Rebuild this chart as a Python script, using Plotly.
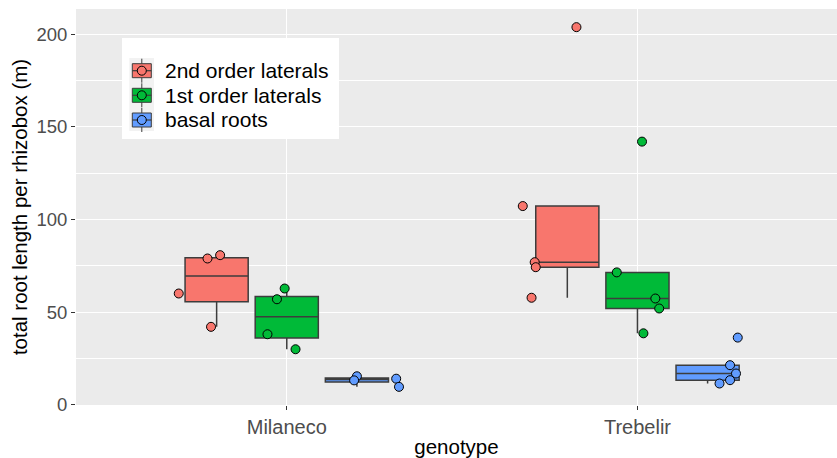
import numpy as np
import plotly.graph_objects as go

# ---- data ----
genotypes = ["Milaneco", "Trebelir"]
root_types = ["2nd order laterals", "1st order laterals", "basal roots"]

# values per rhizobox (m), per genotype
milaneco_2nd = [78.9, 80.7, 60.0, 42.0]
milaneco_1st = [62.7, 56.9, 38.0, 29.9]
milaneco_basal = [15.3, 13.1, 14.0, 9.6]
trebelir_2nd = [203.8, 107.2, 76.9, 74.2, 57.7]
trebelir_1st = [142.0, 71.4, 57.3, 51.9, 38.5]
trebelir_basal = [36.2, 21.3, 16.8, 13.2, 11.4]

# horizontal jitter of each point (in category units)
jitter_milaneco_2nd = [-0.026, 0.010, -0.108, -0.016]
jitter_milaneco_1st = [-0.006, -0.028, -0.055, 0.025]
jitter_milaneco_basal = [0.000, -0.008, 0.112, 0.120]
jitter_trebelir_2nd = [0.026, -0.127, -0.093, -0.090, -0.102]
jitter_trebelir_1st = [0.013, -0.059, 0.051, 0.062, 0.017]
jitter_trebelir_basal = [0.086, 0.064, 0.081, 0.064, 0.034]

values = {
    "2nd order laterals": [milaneco_2nd, trebelir_2nd],
    "1st order laterals": [milaneco_1st, trebelir_1st],
    "basal roots": [milaneco_basal, trebelir_basal],
}
jitters = {
    "2nd order laterals": [jitter_milaneco_2nd, jitter_trebelir_2nd],
    "1st order laterals": [jitter_milaneco_1st, jitter_trebelir_1st],
    "basal roots": [jitter_milaneco_basal, jitter_trebelir_basal],
}
colors = {"2nd order laterals": "#F8766D", "1st order laterals": "#00BA38", "basal roots": "#619CFF"}

DODGE = 0.2
BOXW = 0.18


def box_stats(v):
    v = np.asarray(v, dtype=float)
    q1, med, q3 = np.percentile(v, [25, 50, 75])
    iqr = q3 - q1
    lo = v[v >= q1 - 1.5 * iqr].min()
    hi = v[v <= q3 + 1.5 * iqr].max()
    return q1, med, q3, lo, hi


fig = go.Figure()

for i, rt in enumerate(root_types):
    off = (i - 1) * DODGE
    xs, q1s, meds, q3s, los, his = [], [], [], [], [], []
    for g in range(len(genotypes)):
        q1, med, q3, lo, hi = box_stats(values[rt][g])
        xs.append(g + 1 + off)
        q1s.append(q1); meds.append(med); q3s.append(q3); los.append(lo); his.append(hi)
    fig.add_trace(go.Box(
        x=xs, q1=q1s, median=meds, q3=q3s, lowerfence=los, upperfence=his,
        name=rt, width=BOXW, whiskerwidth=0, boxpoints=False,
        fillcolor=colors[rt], line=dict(color="#3d3d3d", width=1.5),
        showlegend=False, hoverinfo="skip",
    ))

for i, rt in enumerate(root_types):
    off = (i - 1) * DODGE
    px, py = [], []
    for g in range(len(genotypes)):
        for val, j in zip(values[rt][g], jitters[rt][g]):
            px.append(g + 1 + off + j)
            py.append(val)
    fig.add_trace(go.Scatter(
        x=px, y=py, mode="markers", name=rt, showlegend=False,
        marker=dict(size=9, color=colors[rt], line=dict(color="black", width=1)),
        hoverinfo="skip",
    ))

W, H = 837, 458
L, T, B, R = 76, 9, 53, 0
pw = W - L - R
ph = H - T - B


def fx(px):
    return (px - L) / pw


def fy(py):
    return (H - B - py) / ph


# ---- ggplot-style legend drawn inside the panel ----
shapes = []
shapes.append(dict(type="rect", xref="paper", yref="paper",
                   x0=fx(122), x1=fx(339), y0=fy(139), y1=fy(38),
                   fillcolor="white", line=dict(width=0), layer="above"))
# key background column
shapes.append(dict(type="rect", xref="paper", yref="paper",
                   x0=fx(129.3), x1=fx(154), y0=fy(131), y1=fy(58),
                   fillcolor="#F2F2F2", line=dict(width=0), layer="above"))
row_y = [70.7, 95.3, 120.0]
kx0, kx1 = 132.3, 151.3
kxc = (kx0 + kx1) / 2
annotations = []
for rt, yc in zip(root_types, row_y):
    shapes.append(dict(type="line", xref="paper", yref="paper",
                       x0=fx(kxc), x1=fx(kxc), y0=fy(yc + 12), y1=fy(yc - 12),
                       line=dict(color="#3d3d3d", width=1), layer="above"))
    shapes.append(dict(type="rect", xref="paper", yref="paper",
                       x0=fx(kx0), x1=fx(kx1), y0=fy(yc + 7), y1=fy(yc - 7),
                       fillcolor=colors[rt], line=dict(color="#3d3d3d", width=1), layer="above"))
    shapes.append(dict(type="line", xref="paper", yref="paper",
                       x0=fx(kx0), x1=fx(kx1), y0=fy(yc), y1=fy(yc),
                       line=dict(color="#3d3d3d", width=1.2), layer="above"))
    shapes.append(dict(type="circle", xref="paper", yref="paper",
                       x0=fx(kxc - 4.5), x1=fx(kxc + 4.5), y0=fy(yc + 4.5), y1=fy(yc - 4.5),
                       fillcolor=colors[rt], line=dict(color="black", width=1), layer="above"))
    annotations.append(dict(xref="paper", yref="paper", x=fx(163), y=fy(yc),
                            xanchor="left", yanchor="middle", text=rt, showarrow=False,
                            font=dict(size=21, color="black")))

fig.update_layout(
    width=W, height=H,
    margin=dict(l=L, r=R, t=T, b=B),
    paper_bgcolor="white", plot_bgcolor="#EBEBEB",
    font=dict(family="Liberation Sans, Arial, sans-serif", color="black"),
    showlegend=False,
    shapes=shapes,
    annotations=annotations,
    xaxis=dict(
        range=[0.399, 2.569], tickmode="array", tickvals=[1, 2], ticktext=genotypes,
        showgrid=True, gridcolor="white", gridwidth=1.1, zeroline=False,
        ticks="outside", ticklen=4, tickcolor="#333333", tickwidth=1,
        tickfont=dict(size=20, color="#4D4D4D"),
        title=dict(text="genotype", font=dict(size=20.5, color="black"), standoff=7),
        showline=False,
    ),
    yaxis=dict(
        range=[-0.2, 213.6], tickmode="array", tickvals=[0, 50, 100, 150, 200],
        showgrid=True, gridcolor="white", gridwidth=1.1, zeroline=False,
        minor=dict(tickmode="array", tickvals=[25, 75, 125, 175], showgrid=True,
                   gridcolor="white", gridwidth=0.55, ticks=""),
        ticks="outside", ticklen=4, tickcolor="#333333", tickwidth=1,
        tickfont=dict(size=18.5, color="#4D4D4D"),
        title=dict(text="total root length per rhizobox (m)", font=dict(size=20.5, color="black"), standoff=3),
        showline=False,
    ),
)

fig.write_html("out.html")
